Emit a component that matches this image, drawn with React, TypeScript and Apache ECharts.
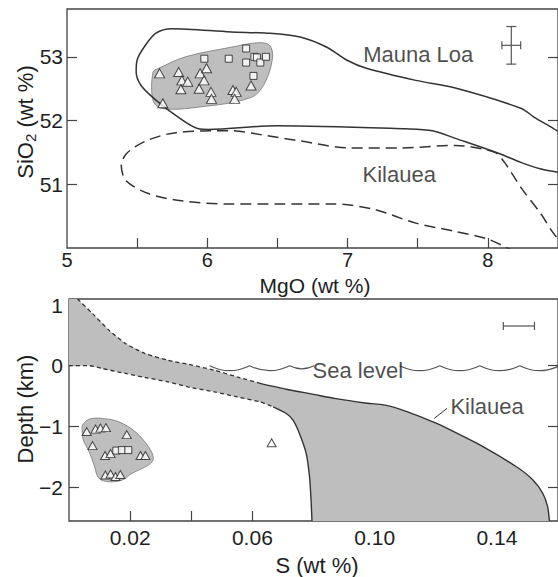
import React, { useEffect, useRef } from 'react';
import * as echarts from 'echarts';

// ---------- DATA (top panel: MgO vs SiO2) ----------
const mgoTickValues = [5.5, 6, 6.5, 7, 7.5, 8];
const mgoLabelValues = [5, 6, 7, 8];
const sio2TickValues = [51, 52, 53];

const topTriangles: [number, number][] = [
  [5.66, 52.74], [5.683, 52.27], [5.796, 52.76], [5.819, 52.63], [5.861, 52.61],
  [5.812, 52.49], [5.942, 52.5], [5.949, 52.74], [5.977, 52.63], [5.995, 52.82],
  [6.026, 52.45], [6.03, 52.34], [6.183, 52.48], [6.206, 52.45], [6.195, 52.34],
  [6.312, 52.55],
];
const topSquares: [number, number][] = [
  [5.979, 52.97], [6.153, 52.97], [6.277, 53.13], [6.277, 52.91], [6.336, 53.0],
  [6.354, 52.99], [6.378, 52.91], [6.418, 53.0], [6.329, 52.7],
];
const topSampleField: [number, number][] = [
  [5.613, 52.76], [5.613, 52.32], [5.676, 52.19], [5.937, 52.21], [6.31, 52.36],
  [6.408, 52.58], [6.465, 52.98], [6.444, 53.18], [6.359, 53.22], [6.169, 53.15],
  [5.845, 53.0], [5.655, 52.82],
];
const maunaLoaField: [number, number][] = [
  [8.5, 51.83], [8.458, 51.89], [8.331, 52.05], [8.239, 52.19], [7.768, 52.51],
  [7.486, 52.63], [7.134, 52.82], [6.993, 52.95], [6.852, 53.15], [6.662, 53.31],
  [6.43, 53.37], [6.169, 53.39], [5.746, 53.44], [5.634, 53.37], [5.549, 53.15],
  [5.5, 52.95], [5.493, 52.76], [5.528, 52.55], [5.634, 52.32], [5.775, 52.08],
  [5.937, 51.87], [6.007, 51.86], [6.5, 51.92], [7.415, 51.87], [7.606, 51.84],
  [7.768, 51.72], [8.07, 51.49], [8.239, 51.34], [8.38, 51.24], [8.5, 51.19],
];
const kilaueaFieldTop: [number, number][] = [
  [8.2, 49.93], [8.0, 50.14], [7.768, 50.26], [7.486, 50.39], [7.183, 50.61],
  [6.901, 50.69], [6.5, 50.69], [6.169, 50.69], [5.817, 50.74], [5.585, 50.85],
  [5.423, 51.05], [5.387, 51.29], [5.423, 51.48], [5.563, 51.68], [5.775, 51.81],
  [6.169, 51.84], [6.43, 51.76], [6.662, 51.68], [7.014, 51.57], [7.366, 51.57],
  [7.768, 51.61], [8.049, 51.5], [8.12, 51.34], [8.239, 50.94], [8.38, 50.53],
  [8.458, 50.26], [8.5, 50.14],
];
// [x, y, half-width x, half-height y]
const topErrorBar: number[][] = [[8.167, 53.18, 0.067, 0.295]];
const topLabels = [
  { name: 'Mauna Loa', value: [7.504, 53.03] },
  { name: 'Kilauea', value: [7.368, 51.16] },
];

// ---------- DATA (bottom panel: S vs depth) ----------
const sTickValues = [0.02, 0.04, 0.06, 0.08, 0.1, 0.12, 0.14];
const sLabelValues = [0.02, 0.06, 0.1, 0.14];
const depthTickValues = [-2, -1, 0];
const depthLabelValues = [-2, -1, 0, 1];

const upperBoundary: [number, number][] = [
  [0.0028, 1.1], [0.0077, 0.859], [0.0131, 0.584], [0.0185, 0.365], [0.0249, 0.201],
  [0.0324, 0.09], [0.0389, 0.025], [0.0475, -0.074], [0.055, -0.184], [0.0625, -0.291],
  [0.0711, -0.387], [0.0797, -0.469], [0.0873, -0.543], [0.0969, -0.614], [0.1034, -0.65],
  [0.1108, -0.76], [0.1195, -0.935], [0.1249, -1.062], [0.1356, -1.337], [0.1464, -1.666],
  [0.1518, -1.883], [0.155, -2.102], [0.1566, -2.322], [0.1572, -2.56],
];
const innerBoundary: [number, number][] = [
  [0, 0.0], [0.0066, 0.0], [0.0109, -0.046], [0.0185, -0.128], [0.0249, -0.194],
  [0.0324, -0.267], [0.0389, -0.349], [0.0475, -0.431], [0.055, -0.514], [0.0625, -0.596],
  [0.0668, -0.678], [0.0711, -0.787], [0.0733, -0.897], [0.0754, -1.116], [0.0776, -1.445],
  [0.0787, -1.83], [0.0792, -2.214], [0.0795, -2.56],
];
const bottomSampleField: [number, number][] = [
  [0.00445, -0.979], [0.0066, -0.881], [0.0109, -0.869], [0.0163, -0.925], [0.0217, -1.09],
  [0.026, -1.337], [0.0276, -1.528], [0.026, -1.638], [0.0206, -1.774], [0.0174, -1.885],
  [0.0131, -1.913], [0.0098, -1.857], [0.0082, -1.638], [0.0066, -1.419], [0.0047, -1.226],
  [0.0043, -1.062],
];
const bottomTriangles: [number, number][] = [
  [0.0058, -1.086], [0.0087, -1.045], [0.0103, -1.029], [0.0121, -1.021], [0.0189, -1.136],
  [0.0077, -1.317], [0.0118, -1.481], [0.0136, -1.449], [0.0234, -1.481], [0.025, -1.481],
  [0.0119, -1.802], [0.0136, -1.786], [0.0152, -1.827], [0.0168, -1.794], [0.0663, -1.271],
];
const bottomSquares: [number, number][] = [
  [0.0155, -1.399], [0.0173, -1.391], [0.0194, -1.391],
];
const seaLevelSegments: number[][] = [[0.046, 0.0802], [0.1082, 0.165]];
const kilaueaLeader: [number, number][] = [[0.1195, -0.868], [0.1237, -0.704]];
const bottomErrorBar: number[][] = [[0.1472, 0.655, 0.0051, 0]];
const bottomLabels = [
  { name: 'Sea level', value: [0.0945, -0.074] },
  { name: 'Kilauea', value: [0.1368, -0.675] },
];

// ---------- STYLE ----------
const FONT = '"Liberation Sans", Arial, Helvetica, sans-serif';
const INK = '#333';
const TEXT = '#1e1e1e';
const FILL = '#bebebe';
const UPPER_DASH_END = 10; // index where upper boundary switches to solid
const INNER_DASH_END = 10;

function polygonSeries(pts: [number, number][], xi: number, yi: number, style: any, smooth: number, z = 1) {
  return {
    type: 'custom', xAxisIndex: xi, yAxisIndex: yi, z, silent: true,
    data: [pts[0]],
    renderItem: (_p: any, api: any) => ({
      type: 'polygon',
      shape: { points: pts.map((p) => api.coord(p)), smooth },
      style,
    }),
  };
}

function lineSeries(pts: [number, number][], xi: number, yi: number, type: any, width: number, smooth: number) {
  return {
    type: 'line', xAxisIndex: xi, yAxisIndex: yi, z: 3, silent: true,
    data: pts, symbol: 'none', smooth,
    lineStyle: { color: INK, width, type },
  };
}

function markerSeries(pts: [number, number][], xi: number, yi: number, symbol: string, size: any) {
  return {
    type: 'scatter', xAxisIndex: xi, yAxisIndex: yi, z: 5, silent: true,
    data: pts, symbol, symbolSize: size,
    itemStyle: { color: '#fff', borderColor: '#222', borderWidth: 1 },
  };
}

function errorSeries(data: number[][], xi: number, yi: number) {
  return {
    type: 'custom', xAxisIndex: xi, yAxisIndex: yi, z: 5, silent: true,
    data,
    renderItem: (_p: any, api: any) => {
      const x = api.value(0), y = api.value(1), dx = api.value(2), dy = api.value(3);
      const st = { stroke: '#555', lineWidth: 1.2 };
      const kids: any[] = [];
      const seg = (a: number[], b: number[]) => ({ type: 'line', shape: { x1: a[0], y1: a[1], x2: b[0], y2: b[1] }, style: st });
      if (dy > 0) {
        const t = api.coord([x, y + dy]), b = api.coord([x, y - dy]);
        kids.push(seg(t, b), seg([t[0] - 5, t[1]], [t[0] + 5, t[1]]), seg([b[0] - 5, b[1]], [b[0] + 5, b[1]]));
      }
      if (dx > 0) {
        const l = api.coord([x - dx, y]), r = api.coord([x + dx, y]);
        kids.push(seg(l, r), seg([l[0], l[1] - 4], [l[0], l[1] + 4]), seg([r[0], r[1] - 4], [r[0], r[1] + 4]));
      }
      return { type: 'group', children: kids };
    },
  };
}

function labelSeries(data: any[], xi: number, yi: number) {
  return {
    type: 'scatter', xAxisIndex: xi, yAxisIndex: yi, z: 6, silent: true,
    data, symbolSize: 1, itemStyle: { color: 'rgba(0,0,0,0)' },
    label: { show: true, position: 'inside', formatter: '{b}', fontSize: 22, color: TEXT, fontFamily: FONT },
  };
}

function seaLevelSeries(xi: number, yi: number) {
  return {
    type: 'custom', xAxisIndex: xi, yAxisIndex: yi, z: 4, silent: true,
    data: seaLevelSegments,
    renderItem: (_p: any, api: any) => {
      const a = api.coord([api.value(0), 0]);
      const b = api.coord([api.value(1), 0]);
      const P = 40;
      const kids: any[] = [];
      for (let x = a[0]; x < b[0] - 0.5; x += P) {
        const x2 = Math.min(x + P, b[0]);
        const w = x2 - x;
        kids.push({
          type: 'bezierCurve',
          shape: { x1: x, y1: a[1], x2, y2: a[1], cpx1: x + w / 2, cpy1: a[1] + 10 * (w / P) },
          style: { stroke: '#555', lineWidth: 1.2, fill: 'none' },
        });
      }
      return { type: 'group', children: kids };
    },
  };
}

const tickLabel = (m: number, size = 21) => ({ fontSize: size, lineHeight: 18, color: TEXT, fontFamily: FONT, margin: m });
const noLine = { show: false, onZero: false };

export default function App() {
  const ref = useRef<HTMLDivElement>(null);
  useEffect(() => {
    const chart = echarts.init(ref.current!, undefined, { renderer: 'svg' });
    const border = { show: true, borderColor: '#444', borderWidth: 1.3, backgroundColor: 'transparent' };
    const tick = (vals: number[]) => ({ show: true, inside: true, length: 10, lineStyle: { color: '#444', width: 1.2 }, customValues: vals });
    const option: any = {
      animation: false,
      backgroundColor: '#fff',
      grid: [
        { left: 67, top: 9, width: 497, height: 239, ...border },
        { left: 69, top: 299, width: 496, height: 222, ...border },
      ],
      xAxis: [
        {
          type: 'value', gridIndex: 0, min: 5, max: 8.5,
          axisLine: noLine, splitLine: { show: false },
          axisTick: tick(mgoTickValues),
          axisLabel: { ...tickLabel(3, 20), customValues: mgoLabelValues, formatter: (v: number) => String(v) },
        },
        {
          type: 'value', gridIndex: 1, min: 0, max: 0.16,
          axisLine: noLine, splitLine: { show: false },
          axisTick: tick(sTickValues),
          axisLabel: { ...tickLabel(7), customValues: sLabelValues, formatter: (v: number) => v.toFixed(2) },
        },
      ],
      yAxis: [
        {
          type: 'value', gridIndex: 0, min: 50, max: 53.75,
          axisLine: noLine, splitLine: { show: false },
          axisTick: tick(sio2TickValues),
          axisLabel: { ...tickLabel(4), customValues: sio2TickValues, formatter: (v: number) => String(v) },
        },
        {
          type: 'value', gridIndex: 0, min: 50, max: 53.75, position: 'right',
          axisLine: noLine, splitLine: { show: false },
          axisTick: tick(sio2TickValues), axisLabel: { show: false },
        },
        {
          type: 'value', gridIndex: 1, min: -2.56, max: 1.1,
          axisLine: noLine, splitLine: { show: false },
          axisTick: tick(depthTickValues),
          axisLabel: {
            ...tickLabel(6), customValues: depthLabelValues,
            formatter: (v: number) => (v < 0 ? '\u2212' + Math.abs(v) : String(v)),
          },
        },
        {
          type: 'value', gridIndex: 1, min: -2.56, max: 1.1, position: 'right',
          axisLine: noLine, splitLine: { show: false },
          axisTick: tick(depthTickValues), axisLabel: { show: false },
        },
      ],
      graphic: [
        {
          type: 'text', x: 25, y: 122, rotation: Math.PI / 2,
          style: {
            text: '{a|SiO}{s|2}{a| (wt %)}', textAlign: 'center', textVerticalAlign: 'middle',
            rich: {
              a: { fontSize: 22, fontFamily: FONT, fill: TEXT },
              s: { fontSize: 15, fontFamily: FONT, fill: TEXT, padding: [10, 0, 0, 0] },
            },
          },
        },
        {
          type: 'text', x: 315, y: 285,
          style: { text: 'MgO (wt %)', font: `21px ${FONT}`, lineHeight: 19, fill: TEXT, textAlign: 'center', textVerticalAlign: 'middle' },
        },
        {
          type: 'text', x: 25, y: 409, rotation: Math.PI / 2,
          style: { text: 'Depth (km)', font: `22px ${FONT}`, fill: TEXT, textAlign: 'center', textVerticalAlign: 'middle' },
        },
        {
          type: 'text', x: 317, y: 565,
          style: { text: 'S (wt %)', font: `22px ${FONT}`, fill: TEXT, textAlign: 'center', textVerticalAlign: 'middle' },
        },
      ],
      series: [
        // top panel
        polygonSeries(topSampleField, 0, 0, { fill: FILL, stroke: '#777', lineWidth: 0.8 }, 0.35),
        lineSeries(maunaLoaField, 0, 0, 'solid', 1.5, 0.3),
        lineSeries(kilaueaFieldTop, 0, 0, [11, 6], 1.5, 0.3),
        markerSeries(topTriangles, 0, 0, 'triangle', [10, 9]),
        markerSeries(topSquares, 0, 0, 'rect', 7),
        errorSeries(topErrorBar, 0, 0),
        labelSeries(topLabels, 0, 0),
        // bottom panel
        polygonSeries(
          [[0, 1.1] as [number, number], ...upperBoundary, ...innerBoundary.slice().reverse()],
          1, 2, { fill: FILL }, 0,
        ),
        polygonSeries(bottomSampleField, 1, 2, { fill: FILL, stroke: '#777', lineWidth: 0.8 }, 0.35),
        lineSeries(upperBoundary.slice(0, UPPER_DASH_END), 1, 2, [4, 3], 1.3, 0.2),
        lineSeries(upperBoundary.slice(UPPER_DASH_END - 1), 1, 2, 'solid', 1.4, 0.2),
        lineSeries(innerBoundary.slice(0, INNER_DASH_END + 1), 1, 2, [4, 3], 1.3, 0.2),
        lineSeries(innerBoundary.slice(INNER_DASH_END), 1, 2, 'solid', 1.4, 0.2),
        lineSeries(kilaueaLeader, 1, 2, 'solid', 1, 0),
        seaLevelSeries(1, 2),
        markerSeries(bottomTriangles, 1, 2, 'triangle', [9, 8]),
        markerSeries(bottomSquares, 1, 2, 'rect', 7),
        errorSeries(bottomErrorBar, 1, 2),
        labelSeries(bottomLabels, 1, 2),
      ],
    };
    chart.setOption(option);
    return () => chart.dispose();
  }, []);
  return <div ref={ref} style={{ position: 'fixed', left: 0, top: 0, width: 558, height: 577, background: '#fff' }} />;
}
